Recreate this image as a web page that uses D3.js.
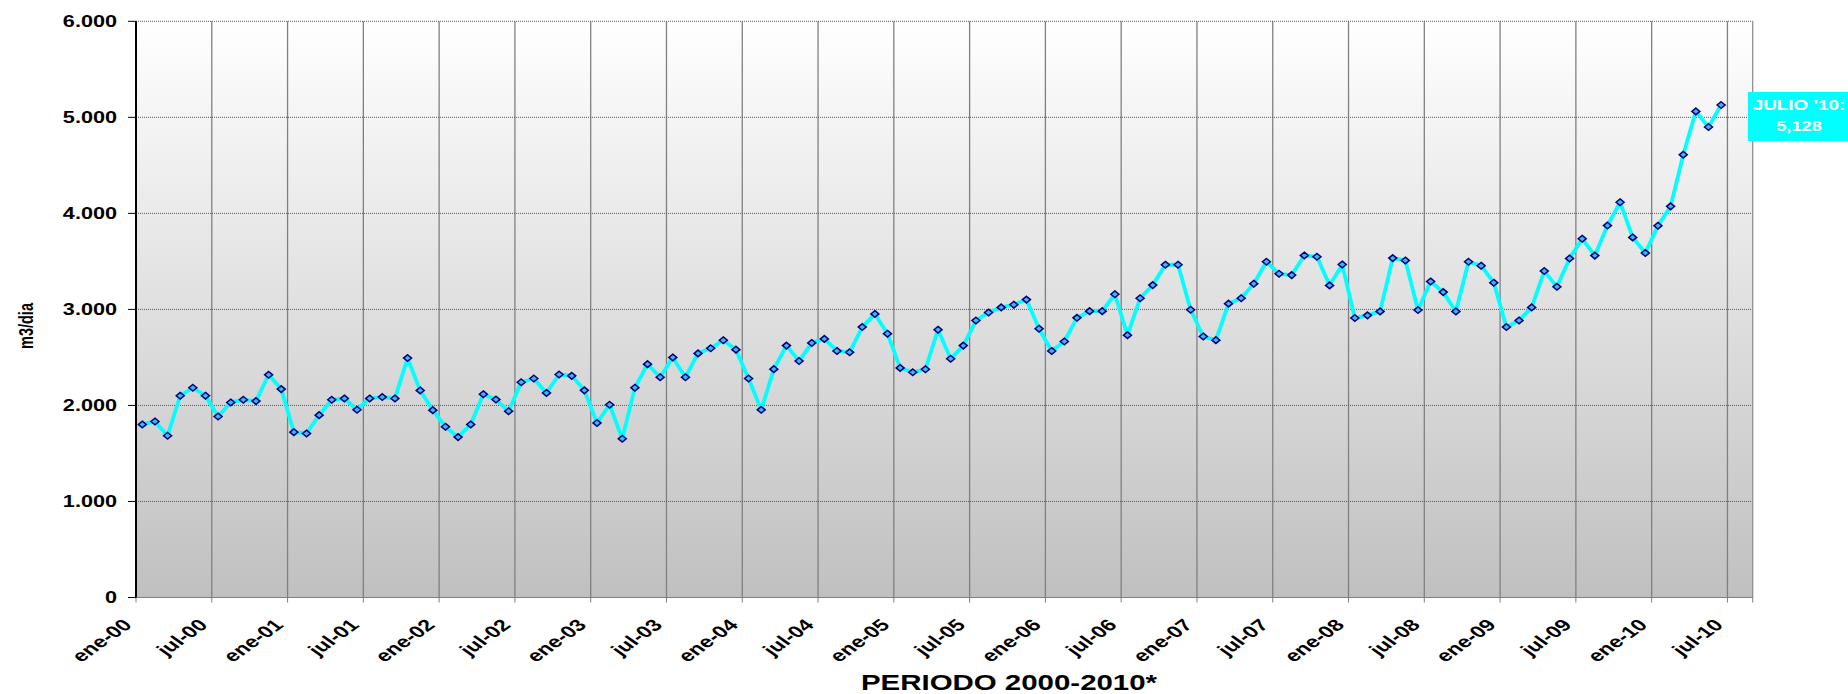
<!DOCTYPE html>
<html><head><meta charset="utf-8">
<script src="https://cdn.jsdelivr.net/npm/d3@7"></script>
<style>
body{margin:0;background:#fff;overflow:hidden}
text{font-family:"Liberation Sans",Arial,sans-serif;font-weight:bold;fill:#000}
</style>
</head><body>
<svg id="chart" width="1848" height="694"></svg>
<script>
// Monthly values (m3/dia), first point ene-00
const values = [
1802,1833,1684,2101,2184,2101,1885,2031,2059,2045,2319,2170,
1722,1708,1899,2059,2073,1955,2073,2087,2073,2493,2156,1951,
1778,1670,1802,2117,2061,1940,2241,2280,2130,2322,2308,2157,
1818,2007,1653,2185,2430,2294,2500,2294,2542,2595,2679,2581,
2280,1954,2378,2623,2462,2651,2693,2567,2553,2816,2953,2747,
2391,2345,2377,2789,2486,2623,2884,2968,3021,3049,3102,2799,
2567,2666,2912,2982,2982,3158,2732,3116,3253,3465,3465,2996,
2718,2680,3060,3117,3268,3496,3371,3357,3562,3548,3250,3468,
2910,2938,2979,3534,3510,2993,3291,3180,2979,3496,3455,3278,
2816,2885,3021,3399,3235,3531,3736,3560,3873,4116,3750,3587,
3872,4073,4611,5062,4899,5128
];
const yTicks = [0,1000,2000,3000,4000,5000,6000];
const yTickLabels = ["0","1.000","2.000","3.000","4.000","5.000","6.000"];
const xTickLabels = ["ene-00","jul-00","ene-01","jul-01","ene-02","jul-02","ene-03","jul-03",
  "ene-04","jul-04","ene-05","jul-05","ene-06","jul-06","ene-07","jul-07",
  "ene-08","jul-08","ene-09","jul-09","ene-10","jul-10"];
const annotationLines = ["JULIO '10:", "5,128"];
const yTitle = "m3/dia";
const xTitle = "PERIODO 2000-2010*";

const SX = 1.37; // horizontal text stretch
const L = 136, R = 1752.7, T = 21.3, B = 597.5;
const totalMonths = 128;

const svg = d3.select("#chart");
const x = d3.scaleLinear().domain([0, totalMonths]).range([L, R]);
const y = d3.scaleLinear().domain([0, 6000]).range([B, T]);

const defs = svg.append("defs");
const grad = defs.append("linearGradient").attr("id","bg").attr("x1",0).attr("y1",0).attr("x2",0).attr("y2",1);
grad.append("stop").attr("offset","0%").attr("stop-color","#ffffff");
grad.append("stop").attr("offset","100%").attr("stop-color","#c0c0c0");

svg.append("rect").attr("x",L).attr("y",T).attr("width",R-L).attr("height",B-T).attr("fill","url(#bg)");

// vertical grid (every 6 months)
const xTickIdx = xTickLabels.map((d,i)=>i*6);
svg.append("g").selectAll("line").data(xTickIdx).join("line")
  .attr("x1",d=>x(d)).attr("x2",d=>x(d)).attr("y1",T).attr("y2",B)
  .attr("stroke","#808080").attr("stroke-width",1.3);

// horizontal grid
svg.append("g").selectAll("line").data(yTicks).join("line")
  .attr("x1",L).attr("x2",R).attr("y1",d=>y(d)).attr("y2",d=>y(d))
  .attr("stroke","#5a5a5a").attr("stroke-width",1).attr("stroke-dasharray","1,1");

// right border
svg.append("line").attr("x1",R).attr("x2",R).attr("y1",T).attr("y2",B).attr("stroke","#909090").attr("stroke-width",1.3);

// x axis ticks
svg.append("g").selectAll("line").data(xTickIdx.concat([totalMonths])).join("line")
  .attr("x1",d=>x(d)).attr("x2",d=>x(d)).attr("y1",B).attr("y2",B+5)
  .attr("stroke","#808080").attr("stroke-width",1);
svg.append("line").attr("x1",L).attr("x2",R).attr("y1",B).attr("y2",B).attr("stroke","#808080").attr("stroke-width",1.2);

// y axis
svg.append("line").attr("x1",L).attr("x2",L).attr("y1",T).attr("y2",B).attr("stroke","#000").attr("stroke-width",2);
svg.append("g").selectAll("line").data(yTicks).join("line")
  .attr("x1",L-8).attr("x2",L).attr("y1",d=>y(d)).attr("y2",d=>y(d))
  .attr("stroke","#000").attr("stroke-width",1);

// y labels
svg.append("g").selectAll("text").data(yTicks).join("text")
  .attr("transform",d=>`translate(117,${y(d)+5.6}) scale(${SX},1)`)
  .attr("text-anchor","end").attr("font-size",15.8)
  .text((d,i)=>yTickLabels[i]);

// x labels
svg.append("g").selectAll("text").data(xTickIdx).join("text")
  .attr("transform",d=>`translate(${x(d)-3},${B+28.5}) scale(1.4,1) rotate(-45)`)
  .attr("text-anchor","end").attr("font-size",16.5)
  .text((d,i)=>xTickLabels[i]);

// titles
svg.append("text").attr("transform",`translate(33.3,326) scale(1.43,1) rotate(-90)`)
  .attr("text-anchor","middle").attr("font-size",14.5).text(yTitle);
svg.append("text").attr("transform",`translate(1009,690) scale(${SX},1)`)
  .attr("text-anchor","middle").attr("font-size",21.5).text(xTitle);

// line
const line = d3.line().x((d,i)=>x(i+0.5)).y(d=>y(d));
svg.append("path").datum(values).attr("d",line)
  .attr("fill","none").attr("stroke","#00ffff").attr("stroke-width",3.8).attr("stroke-linejoin","round");

// markers
svg.append("g").selectAll("path").data(values).join("path")
  .attr("transform",(d,i)=>`translate(${x(i+0.5)},${y(d)})`)
  .attr("d","M0,-3.3L4,0L0,3.3L-4,0Z")
  .attr("fill","#3fb8e8").attr("stroke","#000080").attr("stroke-width",1.5);

// annotation
const ann = svg.append("g");
ann.append("rect").attr("x",1748).attr("y",92).attr("width",110).attr("height",49).attr("fill","#00ffff");
ann.selectAll("text").data(annotationLines).join("text")
  .attr("transform",(d,i)=>`translate(1799,${110+i*21}) scale(${i===0?1.35:1.3},1)`)
  .attr("text-anchor","middle").attr("font-size",14).style("fill","#fff")
  .text((d,i)=> i===1 ? d3.format(",")(values[values.length-1]) : d);
</script>
</body></html>
